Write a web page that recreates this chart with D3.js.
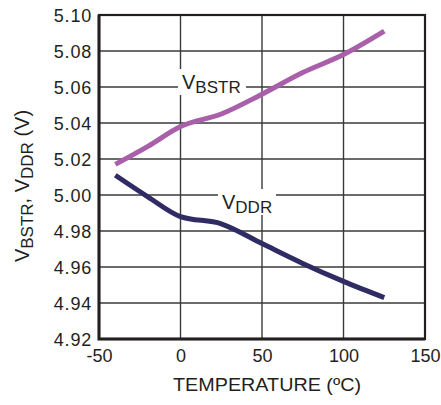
<!DOCTYPE html>
<html>
<head>
<meta charset="utf-8">
<script src="https://cdn.jsdelivr.net/npm/d3@7"></script>
<style>
  body { margin: 0; background: #fff; }
  text { font-family: "Liberation Sans", Arial, sans-serif; fill: #231f20; }
</style>
</head>
<body>
<script>
// data
var temps = [-40, -20, 0, 25, 50, 75, 100, 125];
var vBstr = [5.017, 5.027, 5.038, 5.045, 5.056, 5.068, 5.078, 5.091];
var vDdr  = [5.011, 4.999, 4.988, 4.984, 4.973, 4.962, 4.952, 4.943];
var xTicks = [-50, 0, 50, 100, 150];
var yTicks = [4.92, 4.94, 4.96, 4.98, 5.00, 5.02, 5.04, 5.06, 5.08, 5.10];

var width = 441, height = 405;
var plotL = 99, plotR = 425, plotT = 15, plotB = 339;

var svg = d3.select("body").append("svg")
    .attr("width", width)
    .attr("height", height);

var x = d3.scaleLinear().domain([-50, 150]).range([plotL, plotR]);
var y = d3.scaleLinear().domain([4.92, 5.10]).range([plotB, plotT]);

// grid
svg.append("g")
    .selectAll("line")
    .data(yTicks)
    .enter().append("line")
    .attr("x1", plotL).attr("x2", plotR)
    .attr("y1", function(d) { return y(d); })
    .attr("y2", function(d) { return y(d); })
    .style("stroke", "#3a3a3a")
    .style("stroke-width", 1.4);

svg.append("g")
    .selectAll("line")
    .data(xTicks)
    .enter().append("line")
    .attr("y1", plotT).attr("y2", plotB)
    .attr("x1", function(d) { return x(d); })
    .attr("x2", function(d) { return x(d); })
    .style("stroke", "#3a3a3a")
    .style("stroke-width", 1.4);

// frame
svg.append("rect")
    .attr("x", plotL).attr("y", plotT)
    .attr("width", plotR - plotL).attr("height", plotB - plotT)
    .style("fill", "none")
    .style("stroke", "#231f20")
    .style("stroke-width", 2.2);
svg.append("path")
    .attr("d", "M" + plotL + "," + plotT + "V" + plotB + "H" + plotR)
    .style("fill", "none")
    .style("stroke", "#231f20")
    .style("stroke-width", 3);

// tick labels via d3 axes, domain/ticks hidden
var yAxis = svg.append("g")
    .attr("transform", "translate(" + plotL + ",0)")
    .call(d3.axisLeft(y).tickValues(yTicks).tickFormat(d3.format(".2f")).tickSize(0).tickPadding(7));
var xAxis = svg.append("g")
    .attr("transform", "translate(0," + plotB + ")")
    .call(d3.axisBottom(x).tickValues(xTicks).tickFormat(function(d) { return String(d); }).tickSize(0).tickPadding(10));
[yAxis, xAxis].forEach(function(a) {
  a.select(".domain").remove();
  a.selectAll("text")
    .style("font-size", "18px")
    .style("font-family", "'Liberation Sans', Arial, sans-serif")
    .style("fill", "#231f20");
});
yAxis.selectAll("text").attr("dy", "0.36em").style("letter-spacing", "0.8px");

// curves
var line = d3.line()
    .x(function(d) { return x(d[0]); })
    .y(function(d) { return y(d[1]); })
    .curve(d3.curveMonotoneX);

svg.append("path")
    .datum(d3.zip(temps, vBstr))
    .attr("d", line)
    .style("fill", "none")
    .style("stroke", "#a95faa")
    .style("stroke-width", 5);

svg.append("path")
    .datum(d3.zip(temps, vDdr))
    .attr("d", line)
    .style("fill", "none")
    .style("stroke", "#2e2c63")
    .style("stroke-width", 5);

// inline series labels with white knock-out
function seriesLabel(tx, ty, sub, boxW) {
  svg.append("rect")
    .attr("x", tx - 4).attr("y", ty - 20)
    .attr("width", boxW).attr("height", 26)
    .style("fill", "#fff");
  var t = svg.append("text")
    .attr("x", tx).attr("y", ty)
    .style("font-size", "20px");
  t.append("tspan").text("V");
  t.append("tspan").attr("dy", 4).style("font-size", "17px").text(sub);
}
seriesLabel(182, 89, "BSTR", 68);
seriesLabel(222, 209, "DDR", 58);

// x title
svg.append("text")
    .attr("x", 173).attr("y", 391)
    .attr("textLength", 188)
    .attr("lengthAdjust", "spacingAndGlyphs")
    .style("font-size", "18px")
    .text("TEMPERATURE (ºC)");

// y title
var yt = svg.append("text")
    .attr("transform", "translate(29,186) rotate(-90)")
    .attr("text-anchor", "middle")
    .style("font-size", "20px");
yt.append("tspan").text("V");
yt.append("tspan").attr("dy", 4).style("font-size", "17px").text("BSTR");
yt.append("tspan").attr("dy", -4).text(", V");
yt.append("tspan").attr("dy", 4).style("font-size", "17px").text("DDR");
yt.append("tspan").attr("dy", -4).text(" (V)");
</script>
</body>
</html>
